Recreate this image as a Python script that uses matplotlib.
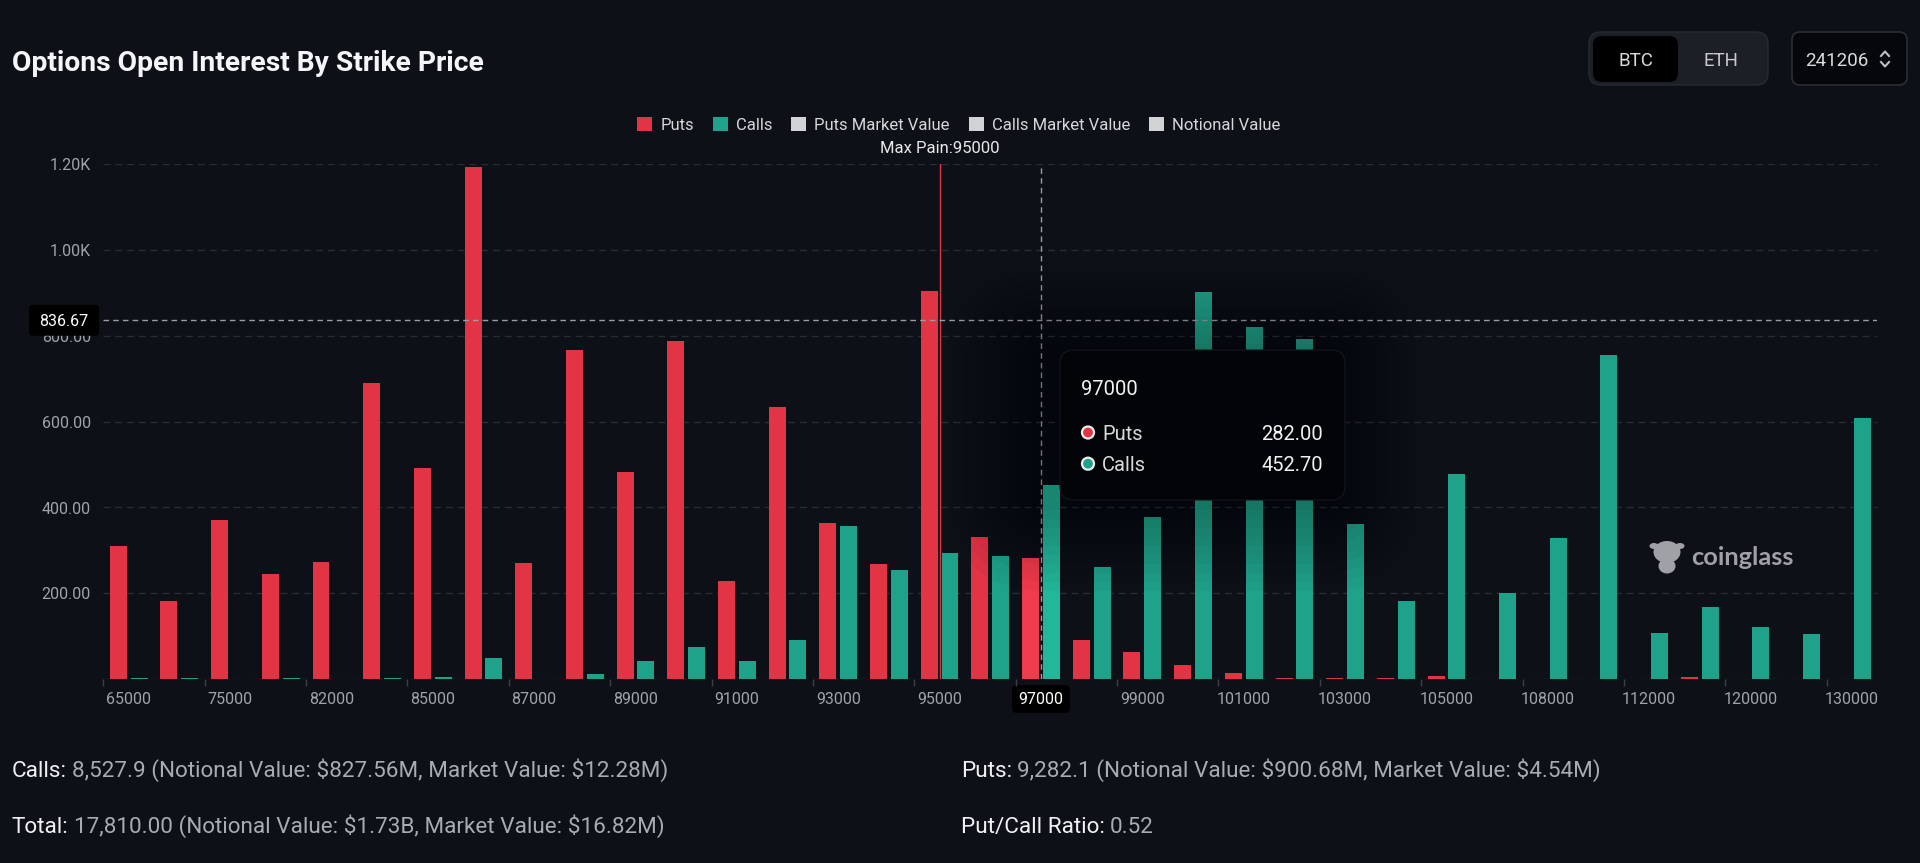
import numpy as np
import matplotlib
matplotlib.use('Agg')
import matplotlib.pyplot as plt
from matplotlib.patches import FancyBboxPatch, Circle, Ellipse, Rectangle

plt.rcParams['font.family'] = ['Roboto', 'DejaVu Sans']

# data
strikes = ['65000', '70000', '75000', '80000', '82000', '84000', '85000', '86000', '87000',
           '88000', '89000', '90000', '91000', '92000', '93000', '94000', '95000', '96000',
           '97000', '98000', '99000', '100000', '101000', '102000', '103000', '104000',
           '105000', '106000', '108000', '110000', '112000', '115000', '120000', '125000',
           '130000']
puts = [310, 183, 371, 244, 272, 690, 491, 1195, 271, 768, 482, 789, 228, 634, 363, 268,
        904, 331, 282, 92, 63, 33, 13, 3, 1.5, 2, 7, 0, 0, 0, 0, 4, 0, 0, 1]
calls = [2, 2, 1, 2, 0, 1.5, 5, 50, 0, 12, 41, 74, 41, 92, 358, 255, 295, 286, 452.7, 262,
         378, 903, 821, 793, 361, 181, 479, 201, 329, 756, 108, 167, 122, 105, 609]

max_pain = '95000'
hover_strike = '97000'
hover_level = 836.67

yticks = [0, 200, 400, 600, 800, 1000, 1200]
ytick_labels = ['', '200.00', '400.00', '600.00', '800.00', '1.00K', '1.20K']

legend_names = ['Puts', 'Calls', 'Puts Market Value', 'Calls Market Value', 'Notional Value']

summary = [
    ('Calls:', '8,527.9 (Notional Value: $827.56M, Market Value: $12.28M)'),
    ('Puts:', '9,282.1 (Notional Value: $900.68M, Market Value: $4.54M)'),
    ('Total:', '17,810.00 (Notional Value: $1.73B, Market Value: $16.82M)'),
    ('Put/Call Ratio:', '0.52'),
]

# colours
BG = '#0d1017'
PUT = '#e23445'
CALL = '#1fa28a'
GRID = '#282c34'
TICK = '#a0a3aa'
W, H = 1920, 863

fig = plt.figure(figsize=(W / 100, H / 100), dpi=100, facecolor=BG)
ax = fig.add_axes([103.3 / W, (H - 679) / H, (1877.3 - 103.3) / W, (679 - 164.5) / H])
ax.set_facecolor(BG)

x = np.arange(len(strikes))
h = strikes.index(hover_strike)
put_cols = [PUT] * len(strikes)
call_cols = [CALL] * len(strikes)
put_cols[h] = '#f03a4d'
call_cols[h] = '#22b79b'

bw = 0.335
off = 0.205
ax.bar(x - off, puts, bw, color=put_cols, linewidth=0, zorder=3)
ax.bar(x + off, calls, bw, color=call_cols, linewidth=0, zorder=3)

ax.set_xlim(-0.5, len(strikes) - 0.5)
ax.set_ylim(0, 1200)
ax.set_yticks(yticks)
ax.set_yticklabels(ytick_labels)
ax.set_xticks(x[::2])
ax.set_xticklabels(strikes[::2])
ax.set_xticks(np.arange(-0.5, len(strikes) - 1, 2), minor=True)
ax.tick_params(axis='y', length=0, pad=8.9, colors=TICK, labelsize=11.5)
ax.tick_params(axis='x', which='major', length=0, pad=9, colors=TICK, labelsize=11.5)
ax.tick_params(axis='x', which='minor', length=5, color='#3a3e46', width=1)
for s in ax.spines.values():
    s.set_visible(False)
ax.yaxis.grid(True, color=GRID, linestyle=(0, (5, 3.5)), linewidth=1)
ax.set_axisbelow(True)

# max pain and crosshair
ax.axvline(strikes.index(max_pain), color=PUT, linewidth=1, zorder=4)
ax.axvline(h, color='#9a9da3', linewidth=1, linestyle=(0, (4, 3)), zorder=4)
ax.axhline(hover_level, color='#9a9da3', linewidth=1, linestyle=(0, (4, 3)), zorder=4)

for lbl in ax.get_xticklabels():
    if lbl.get_text() == hover_strike:
        lbl.set_color('white')
        lbl.set_bbox(dict(boxstyle='round,pad=0.4,rounding_size=0.3', fc='black', ec='none'))

# overlay in pixel coordinates
ov = fig.add_axes([0, 0, 1, 1], zorder=5)
ov.set_xlim(0, W)
ov.set_ylim(H, 0)
ov.axis('off')
ov.patch.set_alpha(0)
renderer = fig.canvas.get_renderer()


def width_of(t):
    return t.get_window_extent(renderer).width


# title
title = ov.text(12, 71, 'Options Open Interest By Strike Price', fontsize=20,
                fontweight='bold', color='#f4f5f7', va='baseline')
title.set_fontsize(title.get_fontsize() * 471 / width_of(title))

# legend, laid out in a row and centred
leg_cols = [PUT, CALL, '#d1d2d4', '#d1d2d4', '#d1d2d4']
leg_texts = []
for name in legend_names:
    leg_texts.append(ov.text(0, 130, name, fontsize=12, color='#d6d7d9', va='baseline'))
widths = [width_of(t) for t in leg_texts]
total = sum(15 + 8 + w for w in widths) + 19 * (len(widths) - 1)
lx = 959 - total / 2
for t, w, c in zip(leg_texts, widths, leg_cols):
    ov.add_patch(Rectangle((lx, 117), 15, 14, fc=c, ec='none'))
    t.set_x(lx + 23)
    lx += 15 + 8 + w + 19

# max pain label
mp_x = ax.transData.transform((strikes.index(max_pain), 0))[0]
ov.text(mp_x, 153, 'Max Pain:' + max_pain, fontsize=12, color='#e8e9eb', ha='center',
        va='baseline')

# y value box of the crosshair
hy = H - ax.transData.transform((0, hover_level))[1]
ov.add_patch(FancyBboxPatch((33, hy - 11.5), 62, 23, boxstyle='round,pad=4', fc='black',
                            ec='none'))
ov.text(64, hy + 6, f'{hover_level:.2f}', fontsize=11.5, color='white', ha='center',
        va='baseline')

# tooltip shadow and box
for k in range(10):
    p = 8 + k * 9
    ov.add_patch(FancyBboxPatch((1035 + 14, 352 + 14), 300 - 28, 150 - 28,
                                boxstyle=f'round,pad={p + 14}', fc='black', ec='none',
                                alpha=0.028))
ov.add_patch(FancyBboxPatch((1060 + 14, 350 + 14), 285 - 28, 150 - 28,
                            boxstyle='round,pad=14', fc='#030407', ec='#14171d', lw=0.8))
ov.text(1081, 395, hover_strike, fontsize=14.5, color='#f2f2f2', va='baseline')
rows = [('Puts', PUT, puts[h], 432.5, 440), ('Calls', CALL, calls[h], 463.7, 471)]
for name, c, v, cy, by in rows:
    ov.add_patch(Circle((1088, cy), 6, fc=c, ec='#eeeeee', lw=1.6))
    ov.text(1102, by, name, fontsize=14.5, color='#d8d9db', va='baseline')
    ov.text(1323, by, f'{v:.2f}', fontsize=14.5, color='#f2f2f2', ha='right', va='baseline')

# coin selector and expiry box
ov.add_patch(FancyBboxPatch((1589 + 12, 32 + 12), 179 - 24, 53 - 24,
                            boxstyle='round,pad=12', fc='#1c1f26', ec='#262a31', lw=1))
ov.add_patch(FancyBboxPatch((1593 + 9, 36 + 9), 85 - 18, 46 - 18,
                            boxstyle='round,pad=9', fc='#000000', ec='none'))
ov.text(1636, 66, 'BTC', fontsize=13.5, color='#d9dadc', ha='center', va='baseline')
ov.text(1721, 66, 'ETH', fontsize=13.5, color='#c9cacd', ha='center', va='baseline')
ov.add_patch(FancyBboxPatch((1792 + 8, 32 + 8), 115 - 16, 53 - 16,
                            boxstyle='round,pad=8', fc='#05070b', ec='#2b2e35', lw=1.2))
ov.text(1805, 66, '241206', fontsize=13.5, color='#d9dadc', va='baseline')
ov.plot([1881, 1885, 1889], [56, 51.5, 56], color='#bfc0c3', lw=1.5)
ov.plot([1881, 1885, 1889], [62, 66.5, 62], color='#bfc0c3', lw=1.5)

# watermark
wm = '#9fa1a6'
ov.add_patch(Ellipse((1667, 552), 27, 22, fc=wm, ec='none'))
ov.add_patch(Ellipse((1654, 546), 9, 6, fc=wm, ec='none'))
ov.add_patch(Ellipse((1680, 546), 9, 6, fc=wm, ec='none'))
ov.add_patch(Ellipse((1667, 566), 17, 15, fc=wm, ec='none'))
wt = ov.text(1691, 565, 'coinglass', fontsize=16, fontweight='bold', color=wm,
             va='baseline', family=['Lato', 'DejaVu Sans'])
wt.set_fontsize(wt.get_fontsize() * 103 / width_of(wt))

# summary lines
pos = [(12, 777), (961, 777), (12, 833), (961, 833)]
probe = ov.text(0, -100, summary[0][0] + ' ' + summary[0][1], fontsize=14, parse_math=False)
fs = 14 * 659 / width_of(probe)
probe.remove()
for (head, rest), (sx, sy) in zip(summary, pos):
    t1 = ov.text(sx, sy, head, fontsize=fs, color='#f0f1f3', va='baseline')
    ov.text(sx + width_of(t1) + fs * 0.3, sy, rest, fontsize=fs, color='#a8abb1',
            va='baseline', parse_math=False)

fig.savefig('out.png', dpi=100, facecolor=BG)
